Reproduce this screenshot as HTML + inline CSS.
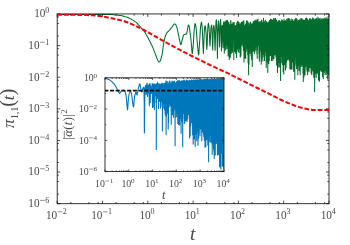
<!DOCTYPE html>
<html><head><meta charset="utf-8"><style>
html,body{margin:0;padding:0;background:#fff;}
svg{display:block;will-change:transform;font-family:"Liberation Serif",serif;}
text{fill:#4a4a4a;}
</style></head><body>
<svg width="350" height="245" viewBox="0 0 350 245">
<rect width="350" height="245" fill="#fff"/>
<defs><clipPath id="cm"><rect x="57.2" y="13.95" width="271.8" height="189.75"/></clipPath>
<clipPath id="ci"><rect x="105.0" y="77.8" width="119.0" height="93.8"/></clipPath></defs>
<g clip-path="url(#cm)" fill="none" stroke-linejoin="round">
<polyline points="57.3,14.4 60.4,14.4 64.9,14.4 70.0,14.4 75.3,14.4 80.0,14.4 84.3,14.4 88.7,14.4 92.8,14.4 96.7,14.4 100.0,14.4 102.7,14.4 104.8,14.4 106.6,14.4 108.3,14.4 110.0,14.5 111.8,14.6 113.4,14.7 115.0,14.9 116.5,15.0 118.0,15.2 119.4,15.4 120.7,15.6 121.9,15.8 123.1,16.1 124.3,16.4 125.5,16.8 126.6,17.1 127.7,17.6 128.9,18.1 130.0,18.6 131.2,19.2 132.3,19.9 133.5,20.6 134.6,21.3 135.7,22.1 136.7,22.9 137.6,23.8 138.4,24.8 139.3,25.7 140.0,26.5 140.7,27.3 141.3,28.0 141.9,28.7 142.4,29.4 142.9,30.0 143.3,30.5 143.7,30.8 144.1,31.1 144.5,31.6 145.0,32.4 145.7,33.5 146.4,34.9 147.3,36.4 148.1,38.0 148.9,39.6 149.7,41.1 150.5,42.7 151.3,44.3 152.1,45.9 152.8,47.5 153.5,49.1 154.1,50.8 154.7,52.4 155.3,53.9 155.8,55.3 156.3,56.5 156.7,57.5 157.0,58.5 157.4,59.3 157.7,60.0 158.0,60.6 158.3,61.2 158.6,61.6 158.8,61.9 159.1,62.0 159.4,61.9 159.7,61.7 160.0,61.3 160.3,60.8 160.6,60.0 160.9,59.0 161.3,57.8 161.6,56.4 162.0,54.9 162.3,53.3 162.6,51.5 162.8,49.5 163.1,47.4 163.3,45.3 163.6,43.5 163.9,41.9 164.2,40.4 164.5,39.1 164.9,37.8 165.2,36.7 165.5,35.7 165.9,34.8 166.2,34.1 166.6,33.4 167.0,32.7 167.5,32.1 167.9,31.6 168.5,31.2 169.0,30.7 169.5,30.2 170.0,29.6 170.5,28.9 171.1,28.2 171.6,27.6 172.1,26.9 172.6,26.2 173.1,25.4 173.5,24.7 174.0,24.2 174.4,23.9 174.8,23.9 175.2,24.2 175.7,24.6 176.0,25.2 176.4,25.9 176.7,26.8 177.0,27.9 177.3,29.1 177.6,30.4 177.9,31.8 178.2,33.3 178.5,34.9 178.9,36.6 179.2,38.2 179.5,39.6 179.8,40.9 180.1,42.3 180.3,43.5 180.6,44.3 180.9,44.6 181.2,44.2 181.5,43.3 181.7,42.1 182.0,40.7 182.3,39.6 182.6,38.6 182.9,37.5 183.1,36.5 183.4,35.7 183.7,35.0 184.0,34.6 184.3,34.4 184.6,34.4 184.9,34.4 185.2,34.3 185.5,34.2 185.8,34.3 186.1,34.2 186.3,34.1 186.6,33.6 186.8,32.8 187.1,31.6 187.3,30.3 187.5,29.0 187.7,28.0 187.9,27.1 188.1,26.3 188.2,25.6 188.4,25.1 188.6,25.0 188.8,25.3 189.0,25.8 189.2,26.6 189.4,27.7 189.6,29.0 189.8,30.7 190.1,32.7 190.4,35.0 190.7,37.2 190.9,39.3 191.1,41.2 191.3,43.0 191.4,44.8 191.6,46.5 191.7,48.0 191.8,49.5 191.9,51.1 192.0,52.5 192.2,53.4 192.3,53.6 192.5,52.9 192.6,51.5 192.8,49.6 193.0,47.4 193.2,45.0 193.4,42.3 193.6,39.0 193.8,35.7 194.0,32.6 194.2,30.0 194.4,28.0 194.6,26.3 194.7,24.9 194.9,24.0 195.1,23.6 195.3,23.8 195.5,24.4 195.7,25.5 196.0,27.1 196.2,29.0 196.5,31.6 196.7,34.9 197.0,38.5 197.2,42.0 197.5,45.0 197.7,47.7 198.0,50.4 198.2,52.8 198.4,54.4 198.6,55.0 198.8,54.2 199.0,52.4 199.1,49.8 199.3,46.9 199.5,44.0 199.7,41.0 199.9,37.5 200.1,33.9 200.3,30.6 200.5,28.0 200.7,26.1 200.9,24.6 201.1,23.6 201.3,22.7 201.4,22.1 201.8,23.7 202.2,27.9 202.6,35.2 203.0,45.9 203.4,53.6 203.7,46.2 204.1,36.4 204.4,30.0 204.8,26.6 205.1,25.8 205.5,26.7 205.8,29.9 206.2,35.8 206.5,44.1 206.8,49.5 207.2,43.9 207.5,35.1 207.8,28.6 208.1,24.7 208.4,23.3 208.7,24.6 209.1,28.1 209.4,34.0 209.7,41.6 210.0,45.9 210.3,41.7 210.6,34.5 210.9,29.1 211.2,26.0 211.5,25.1 211.8,26.3 212.0,29.8 212.2,36.0 212.5,44.6 212.7,50.1 212.9,44.6 213.1,36.1 213.3,29.9 213.6,26.4 213.8,25.3 214.0,25.9 214.3,29.0 214.6,34.9 214.8,44.0 215.1,50.6 215.3,43.5 215.6,33.1 215.8,25.8 216.0,21.5 216.3,19.7 216.5,21.1 216.7,25.3 217.0,33.1 217.2,46.1 217.4,58.6 217.6,46.3 217.8,33.6 218.1,26.0 218.3,22.1 218.5,20.9 218.7,22.0 218.9,25.4 219.1,31.7 219.3,40.8 219.5,47.0 219.8,40.7 220.0,31.3 220.2,24.6 220.4,20.8 220.6,19.4 220.7,21.2 220.9,25.6 221.1,33.1 221.3,43.6 221.4,51.0 221.6,44.2 221.8,34.9 221.9,28.9 222.1,25.8 222.3,25.2 222.4,25.9 222.5,29.0 222.7,34.7 222.8,42.6 223.0,47.7 223.1,42.3 223.3,33.6 223.4,27.1 223.5,23.2 223.7,21.7 223.8,22.9 223.9,26.8 224.1,33.8 224.2,44.7 224.3,53.1 224.5,44.7 224.6,33.8 224.7,26.8 224.9,22.9 225.0,21.6 225.1,22.7 225.2,26.3 225.4,32.9 225.5,42.7 225.6,49.9 225.7,42.6 225.9,32.4 226.0,25.5 226.1,21.5 226.2,20.2 226.4,21.4 226.5,25.1 226.6,31.8 226.7,41.6 226.9,48.5 227.0,41.6 227.1,31.9 227.2,25.3 227.4,21.6 227.5,20.4 227.6,21.9 227.8,26.0 227.9,33.6 228.0,45.6 228.2,55.9 228.3,45.8 228.4,34.2 228.6,26.9 228.7,23.1 228.8,22.0 228.9,23.6 229.0,27.9 229.1,35.7 229.2,48.3 229.3,59.5 229.4,48.7 229.5,36.7 229.6,29.5 229.7,25.8 229.8,24.8 229.9,25.6 230.0,29.1 230.1,36.0 230.2,47.5 230.3,57.6 230.4,47.0 230.5,34.5 230.6,26.6 230.7,22.1 230.8,20.4 230.9,22.0 231.0,26.3 231.1,33.8 231.2,45.0 231.3,53.5 231.4,45.4 231.5,35.1 231.6,28.5 231.7,25.1 231.8,24.3 232.0,25.3 232.1,28.8 232.2,35.4 232.3,45.1 232.4,52.2 232.5,45.0 232.6,34.8 232.7,27.8 232.8,23.9 232.9,22.5 233.1,23.6 233.2,22.6 233.3,24.3 233.3,27.8 233.4,31.1 233.5,32.1 233.5,32.1 233.6,33.8 233.6,39.1 233.7,49.1 233.8,59.6 233.8,56.1 233.9,45.7 234.0,37.2 234.0,30.4 234.1,25.3 234.1,22.4 234.2,22.4 234.3,25.3 234.3,31.0 234.4,36.6 234.5,38.1 234.5,37.0 234.6,38.2 234.6,43.8 234.7,51.5 234.8,50.2 234.8,41.8 234.9,35.8 234.9,32.8 235.0,30.7 235.1,28.3 235.1,26.0 235.2,25.5 235.2,27.5 235.3,31.3 235.3,34.4 235.4,34.3 235.5,33.6 235.5,36.1 235.6,43.6 235.6,53.3 235.7,48.2 235.7,37.0 235.8,30.5 235.9,28.1 235.9,27.9 236.0,27.7 236.0,26.6 236.1,25.8 236.1,26.4 236.2,28.5 236.3,30.5 236.3,31.1 236.4,31.8 236.4,35.4 236.5,44.7 236.5,57.4 236.6,48.9 236.6,34.8 236.7,26.9 236.7,23.5 236.8,22.7 236.9,22.8 236.9,22.7 237.0,22.9 237.0,24.3 237.1,27.7 237.1,32.2 237.2,36.4 237.2,39.4 237.3,43.1 237.3,48.6 237.4,48.9 237.4,39.5 237.5,30.0 237.5,24.2 237.6,21.6 237.7,21.2 237.7,21.8 237.8,22.5 237.8,23.3 237.9,25.4 237.9,29.5 238.0,36.1 238.0,44.5 238.1,51.1 238.1,51.3 238.2,45.4 238.2,37.4 238.3,30.3 238.3,25.1 238.4,22.4 238.4,21.9 238.5,23.1 238.5,25.1 238.6,27.1 238.6,29.1 238.7,31.6 238.7,35.4 238.8,40.8 238.8,47.3 238.9,52.5 238.9,51.1 239.0,43.2 239.0,34.6 239.1,24.2 239.1,22.7 239.2,23.2 239.2,24.9 239.3,27.3 239.3,30.4 239.4,34.3 239.4,39.6 239.5,45.1 239.5,48.5 239.6,48.8 239.6,47.9 239.7,45.5 239.7,40.0 239.8,33.3 239.8,27.9 239.9,24.6 239.9,25.6 240.0,27.2 240.0,28.8 240.1,31.3 240.1,36.2 240.2,45.2 240.2,56.9 240.3,57.1 240.3,47.8 240.4,41.2 240.4,37.1 240.5,28.5 240.5,25.0 240.6,23.8 240.6,25.3 240.7,28.7 240.7,32.3 240.8,34.1 240.8,35.5 240.9,47.6 240.9,55.9 241.0,50.3 241.0,40.7 241.1,35.1 241.1,32.2 241.2,26.2 241.2,23.2 241.3,22.3 241.3,24.4 241.4,29.4 241.4,35.8 241.5,39.7 241.5,40.6 241.6,43.8 241.6,45.1 241.7,40.5 241.7,34.6 241.8,30.9 241.8,30.4 241.9,27.8 241.9,24.3 242.0,22.2 242.0,23.0 242.1,32.5 242.1,37.3 242.2,39.2 242.2,40.6 242.3,44.0 242.3,39.1 242.4,32.8 242.4,29.0 242.5,27.5 242.5,26.2 242.6,23.8 242.6,22.1 242.7,25.8 242.7,31.3 242.8,36.9 242.8,40.7 242.9,46.6 242.9,46.8 243.0,40.2 243.0,32.1 243.1,23.3 243.1,21.8 243.2,21.1 243.2,21.0 243.3,24.8 243.3,30.6 243.4,39.2 243.4,50.4 243.5,46.8 243.5,43.1 243.6,34.7 243.6,29.7 243.7,25.5 243.7,22.7 243.8,20.8 243.8,21.7 243.9,24.6 243.9,30.3 244.0,54.0 244.0,62.1 244.1,42.2 244.1,35.8 244.2,31.5 244.2,28.5 244.3,25.8 244.3,25.4 244.4,26.0 244.4,28.1 244.5,41.0 244.5,52.4 244.6,57.7 244.6,50.8 244.7,39.5 244.7,35.6 244.8,28.1 244.8,25.8 244.9,26.6 244.9,27.9 245.0,29.8 245.0,33.4 245.1,51.8 245.1,57.9 245.2,39.5 245.2,36.2 245.3,36.7 245.3,33.7 245.4,25.8 245.4,24.8 245.5,27.4 245.5,29.9 245.6,42.6 245.6,56.6 245.7,58.5 245.7,43.4 245.8,30.8 245.8,32.2 245.9,30.4 245.9,26.4 246.0,23.6 246.0,25.9 246.1,33.5 246.1,37.5 246.2,51.5 246.2,50.1 246.3,31.9 246.3,28.4 246.4,28.7 246.4,26.7 246.5,21.2 246.5,22.1 246.6,33.2 246.6,40.4 246.7,43.6 246.7,42.5 246.8,34.8 246.8,30.8 246.9,29.1 246.9,29.2 247.0,20.4 247.0,21.0 247.1,33.0 247.1,43.2 247.2,49.1 247.2,41.6 247.3,33.4 247.3,30.3 247.4,27.9 247.4,27.2 247.5,22.9 247.5,21.8 247.6,27.8 247.6,36.1 247.7,54.7 247.7,43.9 247.8,33.4 247.8,29.5 247.9,24.3 247.9,22.8 248.0,22.0 248.0,24.9 248.1,53.4 248.1,62.7 248.2,43.3 248.2,37.1 248.3,30.3 248.3,28.2 248.4,23.5 248.4,23.1 248.5,29.9 248.5,40.2 248.6,74.7 248.6,52.6 248.7,30.2 248.7,27.9 248.8,26.9 248.8,28.1 248.9,29.4 248.9,29.6 249.0,51.0 249.0,64.3 249.1,39.9 249.1,34.2 249.2,29.1 249.2,26.0 249.3,27.0 249.3,29.2 249.4,36.0 249.4,42.4 249.5,51.8 249.5,40.5 249.6,30.7 249.6,33.5 249.7,27.2 249.7,23.4 249.8,28.2 249.8,31.7 249.9,43.6 249.9,53.3 250.0,30.0 250.0,27.0 250.1,29.3 250.1,25.3 250.2,22.4 250.2,24.9 250.3,39.4 250.3,50.6 250.4,37.0 250.4,29.3 250.5,24.7 250.5,25.1 250.6,22.3 250.6,23.6 250.7,43.5 250.7,47.2 250.8,39.1 250.8,34.1 250.9,27.1 250.9,26.1 251.0,23.7 251.0,23.4 251.1,39.8 251.1,56.0 251.2,40.9 251.2,35.1 251.3,26.9 251.3,26.6 251.4,26.3 251.4,27.5 251.5,37.0 251.5,46.3 251.6,59.2 251.6,40.3 251.7,25.3 251.7,24.4 251.8,26.5 251.8,29.0 251.9,54.2 251.9,60.1 252.0,39.8 252.0,34.0 252.1,24.1 252.1,24.6 252.2,29.4 252.2,32.9 252.3,66.5 252.3,51.9 252.4,30.5 252.4,28.1 252.5,23.9 252.5,27.0 252.6,36.2 252.6,40.2 252.7,51.2 252.7,35.1 252.8,28.0 252.8,23.4 252.9,26.1 252.9,31.2 253.0,36.7 253.0,37.3 253.1,44.1 253.1,34.1 253.2,26.3 253.2,21.9 253.3,27.0 253.3,32.1 253.4,41.1 253.4,47.7 253.5,26.8 253.5,25.0 253.6,23.5 253.6,23.3 253.7,34.3 253.7,39.2 253.8,51.2 253.8,37.5 253.9,21.1 253.9,21.0 254.0,27.1 254.0,31.5 254.1,48.4 254.1,47.1 254.2,33.6 254.2,28.0 254.3,22.8 254.3,27.3 254.4,45.5 254.4,53.4 254.5,39.7 254.5,33.2 254.6,24.5 254.6,25.3 254.7,37.9 254.7,43.8 254.8,50.2 254.8,45.2 254.9,23.3 254.9,21.1 255.0,33.5 255.0,38.5 255.1,51.1 255.1,40.9 255.2,32.2 255.2,20.0 255.3,26.3 255.3,32.1 255.4,50.1 255.4,47.6 255.5,30.9 255.5,29.4 255.6,21.4 255.6,25.0 255.7,39.5 255.7,42.9 255.8,34.7 255.8,30.5 255.9,21.2 255.9,21.9 256.0,40.4 256.0,34.4 256.1,42.5 256.1,37.2 256.2,24.8 256.2,21.2 256.3,31.2 256.3,38.7 256.4,45.7 256.4,46.7 256.5,23.1 256.5,21.9 256.6,37.2 256.6,44.0 256.7,51.1 256.7,43.0 256.8,19.9 256.8,20.2 256.9,44.6 256.9,54.0 257.0,44.3 257.0,41.3 257.1,22.8 257.1,22.4 257.2,42.2 257.2,58.2 257.3,38.6 257.3,34.8 257.4,23.3 257.4,26.5 257.5,44.1 257.5,49.4 257.6,38.8 257.6,37.5 257.7,19.7 257.7,26.4 257.8,44.4 257.8,45.9 257.9,33.6 257.9,33.3 258.0,19.1 258.0,26.7 258.1,43.7 258.1,44.7 258.2,27.6 258.2,26.6 258.3,22.0 258.3,31.3 258.4,41.3 258.4,42.8 258.5,26.1 258.5,22.9 258.6,35.0 258.6,44.7 258.7,39.8 258.7,40.9 258.8,24.0 258.8,22.9 258.9,46.8 258.9,54.1 259.0,33.6 259.0,28.8 259.1,23.5 259.1,26.7 259.2,58.7 259.2,53.9 259.3,23.1 259.3,22.0 259.4,42.1 259.4,61.2 259.5,38.6 259.5,35.7 259.6,23.2 259.6,26.1 259.7,57.7 259.7,53.6 259.8,28.4 259.8,24.0 259.9,33.0 259.9,33.8 260.0,47.5 260.0,33.5 260.1,22.1 260.1,21.8 260.2,37.6 260.2,45.2 260.3,28.6 260.3,28.1 260.4,21.6 260.4,28.0 260.5,49.1 260.5,43.1 260.6,25.0 260.6,26.3 260.7,43.7 260.7,50.2 260.8,27.9 260.8,24.5 260.9,30.0 260.9,33.1 261.0,52.6 261.0,37.3 261.1,26.3 261.1,26.8 261.2,56.1 261.2,64.2 261.3,24.2 261.3,25.3 261.4,35.2 261.4,61.3 261.5,27.1 261.5,20.0 261.6,31.6 261.6,33.8 261.7,54.7 261.7,31.3 261.8,21.6 261.8,26.7 261.9,50.8 261.9,49.9 262.0,24.6 262.0,25.0 262.1,33.7 262.1,51.5 262.2,26.2 262.2,24.7 262.3,32.0 262.3,34.8 262.4,50.7 262.4,38.7 262.5,24.8 262.5,26.1 262.6,58.1 262.6,52.7 262.7,22.8 262.7,29.5 262.8,51.4 262.8,60.9 262.9,22.5 262.9,24.2 263.0,44.9 263.0,54.2 263.1,24.6 263.1,23.6 263.2,36.8 263.2,56.5 263.3,26.8 263.3,20.3 263.4,32.7 263.4,33.4 263.5,54.3 263.5,18.3 263.6,32.0 263.6,47.4 263.7,31.7 263.7,21.9 263.8,27.9 263.8,33.9 263.9,47.1 263.9,36.4 264.0,24.5 264.0,31.4 264.1,49.6 264.1,51.9 264.2,24.4 264.2,27.1 264.3,49.7 264.3,53.0 264.4,24.0 264.4,25.6 264.5,60.6 264.5,52.0 264.6,23.0 264.6,26.4 264.7,55.8 264.7,51.6 264.8,21.3 264.8,28.4 264.9,50.7 264.9,41.3 265.0,22.1 265.0,27.0 265.1,51.9 265.1,35.2 265.2,21.0 265.2,29.9 265.3,49.1 265.3,39.5 265.4,20.2 265.4,25.2 265.5,45.1 265.5,34.7 265.6,23.8 265.6,27.2 265.7,46.1 265.7,34.0 265.8,27.9 265.8,31.0 265.9,48.4 265.9,36.5 266.0,25.7 266.0,56.0 266.1,32.2 266.1,23.2 266.2,42.6 266.2,67.5 266.3,24.4 266.3,24.0 266.4,55.1 266.4,60.5 266.5,21.7 266.5,23.8 266.6,56.5 266.6,34.8 266.7,23.2 266.7,27.0 266.8,55.1 266.8,29.1 266.9,23.8 266.9,52.1 267.0,28.7 267.0,23.4 267.1,41.9 267.1,51.6 267.2,29.4 267.2,25.3 267.3,62.1 267.3,56.8 267.4,29.5 267.4,28.3 267.5,60.8 267.5,43.7 267.6,25.6 267.6,27.9 267.7,61.2 267.7,23.3 267.8,37.3 267.8,72.5 267.9,22.2 267.9,23.6 268.0,61.8 268.0,38.1 268.1,22.1 268.1,52.0 268.2,26.2 268.2,25.1 268.3,33.8 268.3,52.2 268.4,26.2 268.4,26.6 268.5,54.1 268.5,52.9 268.6,26.9 268.6,27.8 268.7,57.9 268.7,27.8 268.8,45.8 268.8,63.6 268.9,26.2 268.9,28.5 269.0,55.1 269.0,44.5 269.1,23.1 269.1,53.9 269.2,23.2 269.2,21.4 269.3,60.6 269.3,53.9 269.4,20.6 269.4,53.4 269.5,26.2 269.5,22.6 269.6,43.7 269.6,44.8 269.7,28.3 269.7,26.9 269.8,48.3 269.8,28.2 269.9,39.4 269.9,53.2 270.0,23.2 270.0,24.2 270.1,54.0 270.1,22.7 270.2,40.2 270.2,55.4 270.3,21.7 270.3,23.1 270.4,48.4 270.4,37.7 270.5,19.1 270.5,48.1 270.6,19.2 270.6,19.5 270.7,50.9 270.7,21.2 270.8,46.2 270.8,46.3 270.9,24.0 270.9,24.2 271.0,55.9 271.0,26.5 271.1,53.0 271.1,49.1 271.2,25.1 271.2,26.6 271.3,49.7 271.3,19.9 271.4,55.2 271.4,41.0 271.5,19.9 271.5,60.6 271.6,22.4 271.6,20.1 271.7,49.5 271.7,19.5 271.8,44.3 271.8,47.5 271.9,21.2 271.9,21.7 272.0,50.5 272.0,25.2 272.1,53.1 272.1,45.4 272.2,26.2 272.2,56.9 272.3,28.3 272.3,25.5 272.4,54.1 272.4,24.1 272.5,50.8 272.5,49.5 272.6,20.2 272.6,58.7 272.7,20.1 272.7,20.3 272.8,60.6 272.8,22.2 272.9,49.3 272.9,50.6 273.0,24.6 273.0,47.4 273.1,30.3 273.1,26.9 273.2,53.7 273.2,26.5 273.3,53.8 273.3,52.4 273.4,23.8 273.4,50.8 273.5,24.7 273.5,51.1 273.6,22.2 273.6,21.2 273.7,51.7 273.7,18.2 273.8,48.5 273.8,56.9 273.9,20.7 273.9,58.8 274.0,24.0 274.0,53.8 274.1,25.6 274.1,26.1 274.2,49.2 274.2,26.5 274.3,52.4 274.3,55.0 274.4,22.5 274.4,53.6 274.5,19.4 274.5,45.4 274.6,19.8 274.6,20.9 274.7,49.2 274.7,19.2 274.8,51.9 274.8,44.7 274.9,19.0 274.9,54.2 275.0,23.4 275.0,52.7 275.1,24.3 275.1,48.2 275.2,24.6 275.2,27.9 275.3,44.9 275.3,24.1 275.4,50.6 275.4,20.9 275.5,47.9 275.5,18.2 275.6,50.1 275.6,52.0 275.7,20.1 275.7,55.3 275.8,22.9 275.8,54.0 275.9,23.9 275.9,27.4 276.0,52.5 276.0,57.1 276.1,26.0 276.1,26.4 276.2,49.0 276.2,25.2 276.3,47.9 276.3,23.0 276.4,55.8 276.4,21.8 276.5,60.5 276.5,54.0 276.6,20.1 276.6,65.0 276.7,25.1 276.7,64.7 276.8,25.7 276.8,54.5 276.9,27.6 276.9,55.8 277.0,27.5 277.0,61.4 277.1,24.5 277.1,52.2 277.2,24.3 277.2,52.5 277.3,24.8 277.3,65.7 277.4,23.3 277.4,22.3 277.5,72.5 277.5,23.3 277.6,65.2 277.6,57.3 277.7,25.6 277.7,24.3 277.8,49.9 277.8,25.4 277.9,52.0 277.9,25.0 278.0,56.3 278.0,21.8 278.1,50.3 278.1,21.2 278.2,55.6 278.2,23.2 278.3,66.9 278.3,23.4 278.4,62.7 278.4,24.9 278.5,57.0 278.5,26.1 278.6,50.9 278.6,25.3 278.7,43.1 278.7,22.5 278.8,46.1 278.8,21.7 278.9,53.7 278.9,20.4 279.0,53.9 279.0,20.2 279.1,57.5 279.1,22.9 279.2,56.9 279.2,24.7 279.3,56.3 279.3,24.4 279.4,62.8 279.4,52.0 279.5,24.6 279.5,44.5 279.6,20.8 279.6,21.1 279.7,54.2 279.7,67.0 279.8,21.3 279.8,63.3 279.9,22.4 279.9,60.4 280.0,25.2 280.0,54.1 280.1,26.7 280.1,23.7 280.2,55.0 280.2,24.1 280.3,50.7 280.3,25.8 280.4,50.1 280.4,22.9 280.5,62.3 280.5,22.6 280.6,80.5 280.6,25.4 280.7,57.6 280.7,55.5 280.8,26.5 280.8,49.1 280.9,23.9 280.9,21.8 281.0,47.8 281.0,23.4 281.1,52.4 281.1,22.0 281.2,55.4 281.2,21.1 281.3,62.8 281.3,61.1 281.4,22.3 281.4,51.7 281.5,21.5 281.5,46.3 281.6,23.4 281.6,21.7 281.7,49.3 281.7,19.7 281.8,49.3 281.8,56.8 281.9,20.7 281.9,54.0 282.0,21.1 282.0,23.6 282.1,52.8 282.1,20.7 282.2,48.5 282.2,20.8 282.3,45.3 282.3,44.1 282.4,23.0 282.4,20.2 282.5,56.6 282.5,64.5 282.6,21.7 282.6,24.2 282.7,51.6 282.7,24.6 282.8,54.2 282.8,51.5 282.9,22.3 282.9,24.1 283.0,49.8 283.0,58.6 283.1,25.2 283.1,65.7 283.2,22.4 283.2,71.6 283.3,25.5 283.3,47.5 283.4,21.2 283.4,22.8 283.5,48.6 283.5,55.0 283.6,22.8 283.6,24.0 283.7,59.9 283.7,70.5 283.8,25.0 283.8,73.9 283.9,23.6 283.9,60.0 284.0,20.8 284.0,18.9 284.1,44.0 284.1,46.7 284.2,25.9 284.2,22.9 284.3,58.1 284.3,22.5 284.4,64.8 284.4,62.4 284.5,24.2 284.5,22.3 284.6,53.9 284.6,21.6 284.7,51.3 284.7,25.7 284.8,49.3 284.8,60.7 284.9,23.1 284.9,62.6 285.0,20.8 285.0,60.1 285.1,23.1 285.1,52.5 285.2,22.9 285.2,25.2 285.3,57.7 285.3,27.7 285.4,54.4 285.4,26.1 285.5,70.0 285.5,68.5 285.6,22.2 285.6,20.8 285.7,61.0 285.7,56.6 285.8,23.8 285.8,25.3 285.9,59.5 285.9,61.9 286.0,27.5 286.0,65.0 286.1,24.1 286.1,67.6 286.2,22.6 286.2,21.3 286.3,57.3 286.3,50.8 286.4,24.4 286.4,54.6 286.5,26.0 286.5,62.1 286.6,22.5 286.6,21.1 286.7,51.0 286.7,19.6 286.8,50.4 286.8,19.2 286.9,54.4 286.9,25.4 287.0,48.4 287.0,21.3 287.1,57.1 287.1,53.6 287.2,19.0 287.2,21.2 287.3,52.1 287.3,20.3 287.4,52.9 287.4,59.6 287.5,27.5 287.5,21.3 287.6,53.6 287.6,57.9 287.7,20.3 287.7,20.9 287.8,55.7 287.8,54.3 287.9,24.9 287.9,26.5 288.0,60.1 288.0,57.3 288.1,24.7 288.1,21.6 288.2,58.0 288.2,56.9 288.3,18.4 288.3,21.5 288.4,54.7 288.4,57.7 288.5,23.5 288.5,58.4 288.6,23.6 288.6,54.9 288.7,22.2 288.7,56.0 288.8,18.7 288.8,51.1 288.9,23.5 288.9,52.4 289.0,23.0 289.0,20.2 289.1,56.1 289.1,53.4 289.2,21.6 289.2,23.3 289.3,60.6 289.3,23.6 289.4,56.8 289.4,54.4 289.5,22.3 289.5,19.1 289.6,54.7 289.6,23.0 289.7,59.7 289.7,26.9 289.8,68.7 289.8,26.9 289.9,61.4 289.9,58.6 290.0,22.5 290.0,21.2 290.1,65.5 290.1,67.6 290.2,24.2 290.2,64.4 290.3,28.0 290.3,55.9 290.4,23.7 290.4,55.4 290.5,23.4 290.5,22.9 290.6,69.1 290.6,61.9 290.7,24.6 290.7,53.3 290.8,20.1 290.8,48.2 290.9,20.2 290.9,22.7 291.0,58.0 291.0,22.3 291.1,67.9 291.1,50.5 291.2,22.5 291.2,18.8 291.3,51.9 291.3,20.9 291.4,67.9 291.4,23.6 291.5,65.8 291.5,55.9 291.6,22.7 291.6,21.2 291.7,49.6 291.7,23.0 291.8,69.1 291.8,69.5 291.9,25.5 291.9,54.6 292.0,23.3 292.0,51.9 292.1,22.6 292.1,61.2 292.2,21.0 292.2,61.7 292.3,21.8 292.3,21.1 292.4,48.0 292.4,21.8 292.5,57.3 292.5,22.9 292.6,58.3 292.6,19.4 292.7,53.3 292.7,20.7 292.8,44.0 292.8,21.0 292.9,56.7 292.9,22.8 293.0,62.6 293.0,55.7 293.1,21.5 293.1,54.9 293.2,24.5 293.2,23.2 293.3,59.6 293.3,68.0 293.4,23.2 293.4,56.3 293.5,22.5 293.5,61.1 293.6,24.6 293.6,71.1 293.7,23.8 293.7,71.4 293.8,21.2 293.8,55.0 293.9,22.9 293.9,59.8 294.0,25.1 294.0,24.4 294.1,65.1 294.1,56.0 294.2,19.6 294.2,50.8 294.3,23.2 294.3,24.1 294.4,60.5 294.4,22.0 294.5,59.5 294.5,56.7 294.6,20.7 294.6,23.6 294.7,59.6 294.7,24.0 294.8,79.3 294.8,22.8 294.9,62.4 294.9,57.7 295.0,23.1 295.0,26.7 295.1,64.1 295.1,65.9 295.2,21.4 295.2,24.0 295.3,57.0 295.3,58.6 295.4,25.7 295.4,51.8 295.5,19.4 295.5,54.2 295.6,18.8 295.6,23.8 295.7,58.7 295.7,55.8 295.8,20.9 295.8,18.3 295.9,55.0 295.9,20.1 296.0,54.1 296.0,21.5 296.1,57.2 296.1,55.7 296.2,20.9 296.2,22.6 296.3,64.0 296.3,53.8 296.4,24.8 296.4,20.5 296.5,58.5 296.5,21.6 296.6,59.2 296.6,68.6 296.7,23.5 296.7,59.9 296.8,18.8 296.8,20.5 296.9,62.6 296.9,55.8 297.0,22.6 297.0,20.8 297.1,53.0 297.1,19.6 297.2,61.5 297.2,51.4 297.3,25.5 297.3,55.8 297.4,21.0 297.4,23.1 297.5,68.6 297.5,60.8 297.6,25.9 297.6,23.1 297.7,61.4 297.7,23.3 297.8,74.8 297.8,58.7 297.9,24.1 297.9,64.5 298.0,22.8 298.0,22.1 298.1,65.7 298.1,52.3 298.2,23.9 298.2,48.8 298.3,21.0 298.3,60.3 298.4,20.6 298.4,54.6 298.5,22.0 298.5,20.8 298.6,57.9 298.6,21.6 298.7,64.5 298.7,54.9 298.8,21.2 298.8,22.1 298.9,61.6 298.9,63.6 299.0,23.3 299.0,53.2 299.1,24.1 299.1,70.3 299.2,22.1 299.2,53.8 299.3,20.5 299.3,19.6 299.4,53.1 299.4,68.7 299.5,21.4 299.5,51.4 299.6,20.5 299.6,20.4 299.7,55.2 299.7,21.7 299.8,62.6 299.8,23.5 299.9,52.0 299.9,24.0 300.0,71.4 300.0,62.9 300.1,20.5 300.1,24.7 300.2,64.8 300.2,74.8 300.3,23.8 300.3,54.5 300.4,21.5 300.4,66.5 300.5,25.5 300.5,66.6 300.6,21.5 300.6,23.4 300.7,55.0 300.7,58.6 300.8,21.4 300.8,18.4 300.9,57.1 300.9,60.4 301.0,23.2 301.0,62.9 301.1,20.0 301.1,62.3 301.2,24.7 301.2,66.4 301.3,21.6 301.3,22.5 301.4,59.6 301.4,57.7 301.5,24.4 301.5,61.3 301.6,19.7 301.6,20.5 301.7,54.3 301.7,19.8 301.8,56.4 301.8,18.4 301.9,57.6 301.9,54.1 302.0,21.6 302.0,19.8 302.1,58.1 302.1,22.8 302.2,64.4 302.2,63.1 302.3,22.5 302.3,21.7 302.4,63.8 302.4,65.8 302.5,23.2 302.5,20.0 302.6,62.2 302.6,58.5 302.7,22.9 302.7,20.4 302.8,57.9 302.8,60.2 302.9,23.4 302.9,19.7 303.0,60.6 303.0,73.2 303.1,24.3 303.1,21.0 303.2,60.2 303.2,23.2 303.3,81.6 303.3,58.6 303.4,22.6 303.4,20.7 303.5,66.5 303.5,61.1 303.6,23.2 303.6,20.4 303.7,60.8 303.7,53.5 303.8,20.0 303.8,20.4 303.9,57.8 303.9,77.1 304.0,22.4 304.0,20.3 304.1,52.3 304.1,23.0 304.2,67.8 304.2,62.4 304.3,24.0 304.3,61.8 304.4,21.7 304.4,21.8 304.5,61.2 304.5,75.1 304.6,20.7 304.6,22.1 304.7,50.9 304.7,20.3 304.8,63.9 304.8,23.4 304.9,56.3 304.9,72.0 305.0,21.6 305.0,24.2 305.1,57.1 305.1,74.6 305.2,24.5 305.2,62.6 305.3,22.6 305.3,64.3 305.4,21.2 305.4,55.5 305.5,21.5 305.5,64.2 305.6,18.4 305.6,21.6 305.7,53.0 305.7,66.4 305.8,19.6 305.8,20.2 305.9,56.0 305.9,62.0 306.0,21.2 306.0,61.6 306.1,22.4 306.1,59.5 306.2,19.1 306.2,55.5 306.3,21.7 306.3,58.7 306.4,18.1 306.4,20.1 306.5,54.3 306.5,18.7 306.6,58.0 306.6,25.3 306.7,59.6 306.7,21.5 306.8,69.7 306.8,24.4 306.9,61.9 306.9,21.2 307.0,64.3 307.0,71.3 307.1,21.4 307.1,18.7 307.2,59.3 307.2,55.9 307.3,20.5 307.3,19.0 307.4,64.5 307.4,22.8 307.5,63.0 307.5,22.6 307.6,74.8 307.6,22.0 307.7,67.0 307.7,63.2 307.8,23.9 307.8,20.0 307.9,56.9 307.9,52.5 308.0,20.2 308.0,20.0 308.1,60.7 308.1,51.0 308.2,21.6 308.2,23.4 308.3,66.3 308.3,23.6 308.4,64.8 308.4,70.5 308.5,21.8 308.5,22.2 308.6,69.7 308.6,60.9 308.7,21.0 308.7,22.3 308.8,66.4 308.8,23.0 308.9,61.0 308.9,22.6 309.0,69.7 309.0,71.8 309.1,23.5 309.1,67.4 309.2,21.7 309.2,66.7 309.3,21.4 309.3,21.3 309.4,59.3 309.4,56.6 309.5,20.6 309.5,18.5 309.6,58.8 309.6,20.9 309.7,63.0 309.7,56.3 309.8,20.0 309.8,23.8 309.9,67.5 309.9,59.4 310.0,20.6 310.0,60.2 310.1,19.8 310.1,21.4 310.2,58.4 310.2,55.1 310.3,19.1 310.3,67.8 310.4,22.9 310.4,22.9 310.5,66.4 310.5,66.0 310.6,21.9 310.6,64.7 310.7,24.0 310.7,22.2 310.8,63.3 310.8,20.0 310.9,58.2 310.9,67.0 311.0,21.4 311.0,19.0 311.1,73.1 311.1,22.5 311.2,65.8 311.2,64.1 311.3,22.3 311.3,61.9 311.4,19.9 311.4,20.0 311.5,55.6 311.5,56.9 311.6,20.7 311.6,21.8 311.7,65.5 311.7,23.8 311.8,74.7 311.8,60.6 311.9,21.8 311.9,68.6 312.0,20.4 312.0,65.3 312.1,19.9 312.1,20.9 312.2,60.3 312.2,68.5 312.3,21.0 312.3,22.8 312.4,70.8 312.4,24.8 312.5,63.5 312.5,60.1 312.6,18.4 312.6,59.8 312.7,17.7 312.7,55.4 312.8,18.9 312.8,19.8 312.9,56.4 312.9,60.6 313.0,19.4 313.0,63.1 313.1,19.1 313.1,61.0 313.2,19.7 313.2,18.4 313.3,65.7 313.3,19.8 313.4,62.3 313.4,22.3 313.5,72.1 313.5,65.5 313.6,24.2 313.6,21.7 313.7,77.2 313.7,20.6 313.8,66.6 313.8,20.4 313.9,57.0 313.9,21.1 314.0,61.6 314.0,19.1 314.1,67.0 314.1,21.6 314.2,65.7 314.2,72.7 314.3,21.9 314.3,19.6 314.4,56.8 314.4,65.8 314.5,21.1 314.5,21.2 314.6,61.6 314.6,91.7 314.7,25.1 314.7,83.3 314.8,22.0 314.8,22.3 314.9,63.0 314.9,62.9 315.0,20.9 315.0,67.2 315.1,21.5 315.1,21.9 315.2,73.7 315.2,66.9 315.3,21.3 315.3,21.4 315.4,60.0 315.4,19.5 315.5,53.0 315.5,19.0 315.6,55.4 315.6,59.5 315.7,20.2 315.7,67.1 315.8,21.8 315.8,64.5 315.9,19.7 315.9,20.7 316.0,58.3 316.0,21.3 316.1,64.1 316.1,21.4 316.2,77.4 316.2,21.3 316.3,66.7 316.3,66.0 316.4,22.0 316.4,58.9 316.5,20.9 316.5,64.2 316.6,18.3 316.6,64.6 316.7,20.9 316.7,61.5 316.8,21.2 316.8,69.8 316.9,19.9 316.9,62.3 317.0,19.9 317.0,21.7 317.1,65.9 317.1,21.8 317.2,72.9 317.2,71.7 317.3,22.7 317.3,21.9 317.4,64.1 317.4,59.0 317.5,21.0 317.5,20.5 317.6,64.2 317.6,61.9 317.7,20.4 317.7,64.4 317.8,20.7 317.8,59.2 317.9,17.6 317.9,17.0 318.0,53.5 318.0,20.7 318.1,61.3 318.1,21.6 318.2,74.3 318.2,61.2 318.3,18.8 318.3,66.4 318.4,20.5 318.4,21.9 318.5,80.1 318.5,21.5 318.6,64.3 318.6,74.8 318.7,22.5 318.7,18.9 318.8,63.7 318.8,20.9 318.9,61.4 318.9,19.0 319.0,68.8 319.0,22.3 319.1,71.8 319.1,73.3 319.2,20.9 319.2,21.2 319.3,74.8 319.3,21.7 319.4,70.5 319.4,23.6 319.5,81.3 319.5,21.7 319.6,71.0 319.6,20.7 319.7,63.0 319.7,63.0 319.8,18.5 319.8,20.2 319.9,69.6 319.9,20.6 320.0,63.5 320.0,56.3 320.1,18.2 320.1,56.9 320.2,19.8 320.2,23.0 320.3,62.2 320.3,69.9 320.4,22.6 320.4,66.7 320.5,20.5 320.5,19.9 320.6,68.7 320.6,19.8 320.7,69.5 320.7,22.4 320.8,62.7 320.8,20.4 320.9,58.8 320.9,20.1 321.0,61.0 321.0,20.8 321.1,68.4 321.1,71.5 321.2,20.4 321.2,66.6 321.3,19.8 321.3,66.9 321.4,22.0 321.4,23.9 321.5,70.5 321.5,66.1 321.6,21.3 321.6,58.7 321.7,19.9 321.7,18.7 321.8,58.1 321.8,59.4 321.9,20.1 321.9,62.9 322.0,19.0 322.0,56.8 322.1,18.5 322.1,20.3 322.2,60.5 322.2,22.9 322.3,71.1 322.3,71.8 322.4,21.9 322.4,19.9 322.5,63.7 322.5,19.9 322.6,76.8 322.6,71.8 322.7,20.2 322.7,61.1 322.8,19.9 322.8,21.5 322.9,68.9 322.9,76.2 323.0,21.5 323.0,74.5 323.1,21.4 323.1,64.5 323.2,21.8 323.2,70.8 323.3,21.5 323.3,78.6 323.4,21.1 323.4,56.5 323.5,19.1 323.5,18.7 323.6,59.1 323.6,62.6 323.7,20.9 323.7,19.4 323.8,63.0 323.8,19.8 323.9,65.3 323.9,19.7 324.0,71.2 324.0,21.7 324.1,66.2 324.1,66.4 324.2,18.8 324.2,68.0 324.3,19.2 324.3,21.9 324.4,66.3 324.4,67.9 324.5,19.7 324.5,19.4 324.6,66.5 324.6,22.8 324.7,70.0 324.7,72.5 324.8,20.9 324.8,63.5 324.9,21.0 324.9,21.5 325.0,74.6 325.0,61.7 325.1,21.1 325.1,17.8 325.2,57.5 325.2,21.5 325.3,66.9 325.3,19.2 325.4,70.1 325.4,59.8 325.5,19.4 325.5,21.6 325.6,69.1 325.6,22.1 325.7,69.1 325.7,68.6 325.8,19.5 325.8,21.2 325.9,65.8 325.9,68.8 326.0,21.7 326.0,66.6 326.1,21.2 326.1,22.3 326.2,67.4 326.2,22.6 326.3,74.7 326.3,68.3 326.4,20.6 326.4,18.7 326.5,64.9 326.5,20.9 326.6,66.8 326.6,57.5 326.7,17.8 326.7,19.2 326.8,62.9 326.8,63.8 326.9,22.4 326.9,63.5 327.0,19.9 327.0,20.9 327.1,67.5 327.1,72.4 327.2,21.3 327.2,19.3 327.3,62.5 327.3,21.4 327.4,70.0 327.4,72.9 327.5,20.2 327.5,72.1 327.6,20.7 327.6,22.2 327.7,79.0 327.7,65.2 327.8,20.7 327.8,61.6 327.9,19.5 327.9,67.8 328.0,20.6 328.0,66.4 328.1,18.3 328.1,18.5 328.2,64.6 328.2,68.8 328.3,20.9 328.3,66.3 328.4,19.1 328.4,20.5 328.5,68.9 328.5,21.6 328.6,68.8 328.6,18.9 328.7,67.8 328.7,22.0 328.8,74.9 328.8,21.0 328.9,75.0 328.9,71.9 329.0,21.3" stroke="#006d2c" stroke-width="1.05"/>
</g>
<g stroke="#222" stroke-width="0.8" fill="none">
<path d="M57.20 203.7 v-3 M57.20 13.95 v3"/>
<path d="M70.84 203.7 v-1.7 M70.84 13.95 v1.7"/>
<path d="M88.86 203.7 v-1.7 M88.86 13.95 v1.7"/>
<path d="M98.11 203.7 v-1.7 M98.11 13.95 v1.7"/>
<path d="M102.50 203.7 v-3 M102.50 13.95 v3"/>
<path d="M116.14 203.7 v-1.7 M116.14 13.95 v1.7"/>
<path d="M134.16 203.7 v-1.7 M134.16 13.95 v1.7"/>
<path d="M143.41 203.7 v-1.7 M143.41 13.95 v1.7"/>
<path d="M147.80 203.7 v-3 M147.80 13.95 v3"/>
<path d="M161.44 203.7 v-1.7 M161.44 13.95 v1.7"/>
<path d="M179.46 203.7 v-1.7 M179.46 13.95 v1.7"/>
<path d="M188.71 203.7 v-1.7 M188.71 13.95 v1.7"/>
<path d="M193.10 203.7 v-3 M193.10 13.95 v3"/>
<path d="M206.74 203.7 v-1.7 M206.74 13.95 v1.7"/>
<path d="M224.76 203.7 v-1.7 M224.76 13.95 v1.7"/>
<path d="M234.01 203.7 v-1.7 M234.01 13.95 v1.7"/>
<path d="M238.40 203.7 v-3 M238.40 13.95 v3"/>
<path d="M252.04 203.7 v-1.7 M252.04 13.95 v1.7"/>
<path d="M270.06 203.7 v-1.7 M270.06 13.95 v1.7"/>
<path d="M279.31 203.7 v-1.7 M279.31 13.95 v1.7"/>
<path d="M283.70 203.7 v-3 M283.70 13.95 v3"/>
<path d="M297.34 203.7 v-1.7 M297.34 13.95 v1.7"/>
<path d="M315.36 203.7 v-1.7 M315.36 13.95 v1.7"/>
<path d="M324.61 203.7 v-1.7 M324.61 13.95 v1.7"/>
<path d="M329.00 203.7 v-3 M329.00 13.95 v3"/>
<path d="M57.2 13.95 h3 M329.0 13.95 h-3"/>
<path d="M57.2 36.05 h1.7 M329.0 36.05 h-1.7"/>
<path d="M57.2 23.47 h1.7 M329.0 23.47 h-1.7"/>
<path d="M57.2 17.01 h1.7 M329.0 17.01 h-1.7"/>
<path d="M57.2 45.58 h3 M329.0 45.58 h-3"/>
<path d="M57.2 67.68 h1.7 M329.0 67.68 h-1.7"/>
<path d="M57.2 55.10 h1.7 M329.0 55.10 h-1.7"/>
<path d="M57.2 48.64 h1.7 M329.0 48.64 h-1.7"/>
<path d="M57.2 77.20 h3 M329.0 77.20 h-3"/>
<path d="M57.2 99.30 h1.7 M329.0 99.30 h-1.7"/>
<path d="M57.2 86.72 h1.7 M329.0 86.72 h-1.7"/>
<path d="M57.2 80.26 h1.7 M329.0 80.26 h-1.7"/>
<path d="M57.2 108.83 h3 M329.0 108.83 h-3"/>
<path d="M57.2 130.93 h1.7 M329.0 130.93 h-1.7"/>
<path d="M57.2 118.35 h1.7 M329.0 118.35 h-1.7"/>
<path d="M57.2 111.89 h1.7 M329.0 111.89 h-1.7"/>
<path d="M57.2 140.45 h3 M329.0 140.45 h-3"/>
<path d="M57.2 162.55 h1.7 M329.0 162.55 h-1.7"/>
<path d="M57.2 149.97 h1.7 M329.0 149.97 h-1.7"/>
<path d="M57.2 143.51 h1.7 M329.0 143.51 h-1.7"/>
<path d="M57.2 172.07 h3 M329.0 172.07 h-3"/>
<path d="M57.2 194.18 h1.7 M329.0 194.18 h-1.7"/>
<path d="M57.2 181.60 h1.7 M329.0 181.60 h-1.7"/>
<path d="M57.2 175.14 h1.7 M329.0 175.14 h-1.7"/>
<path d="M57.2 203.70 h3 M329.0 203.70 h-3"/>
</g>
<rect x="57.2" y="13.95" width="271.8" height="189.75" fill="none" stroke="#111" stroke-width="0.85"/>
<polyline points="57.3,14.7 59.8,14.7 63.2,14.7 67.3,14.7 71.3,14.8 75.0,14.8 78.3,14.9 81.4,14.9 84.5,15.0 87.4,15.1 90.0,15.2 92.3,15.3 94.4,15.5 96.2,15.7 98.1,15.9 100.0,16.1 101.9,16.4 103.8,16.7 105.7,17.0 107.7,17.4 110.0,17.9 112.6,18.4 115.4,19.0 118.4,19.7 121.4,20.4 124.3,21.3 127.2,22.3 130.0,23.4 132.9,24.7 135.7,25.9 138.6,27.3 141.5,28.7 144.3,30.2 147.2,31.8 150.0,33.4 152.9,35.0 155.7,36.6 158.6,38.2 161.4,39.8 164.3,41.4 167.1,43.0 170.0,44.6 172.8,46.1 175.7,47.7 178.5,49.2 181.4,50.7 184.3,52.2 187.1,53.6 190.0,55.1 192.8,56.5 195.7,57.9 198.5,59.3 201.1,60.6 203.9,62.0 206.8,63.4 210.0,65.0 213.7,66.7 217.7,68.6 221.9,70.5 226.1,72.4 230.0,74.3 233.6,76.1 237.0,77.8 240.3,79.5 243.6,81.2 247.0,82.9 250.4,84.6 253.9,86.3 257.4,88.0 260.8,89.7 264.3,91.4 267.9,93.2 271.6,95.1 275.2,96.9 278.5,98.6 281.4,100.0 283.7,101.1 285.5,101.9 287.0,102.5 288.4,103.1 290.0,103.7 291.7,104.4 293.4,105.0 295.0,105.7 296.8,106.3 298.6,106.9 300.6,107.5 302.7,108.0 304.8,108.6 306.9,109.0 308.9,109.4 310.8,109.7 312.5,109.9 314.3,110.0 316.1,110.1 318.0,110.1 320.3,110.1 322.9,110.0 325.4,109.9 327.6,109.9 329.2,109.8" fill="none" stroke="#f4000c" stroke-width="2.0" stroke-dasharray="4.8 1.9"/>
<rect x="105.0" y="77.8" width="119.0" height="93.8" fill="#fff"/>
<g clip-path="url(#ci)" fill="none" stroke-linejoin="round">
<polyline points="105.4,78.5 105.9,78.6 106.6,78.8 107.3,79.0 108.0,79.2 108.5,79.4 109.0,79.6 109.5,79.9 110.0,80.2 110.6,80.6 111.2,81.1 111.9,81.7 112.5,82.3 113.1,83.0 113.8,83.7 114.4,84.4 115.0,85.2 115.5,86.1 116.1,87.0 116.6,87.9 117.0,88.8 117.4,89.6 117.8,90.3 118.1,91.0 118.4,91.6 118.7,92.2 119.0,92.8 119.2,93.2 119.5,93.4 119.8,93.3 120.0,93.0 120.3,92.6 120.6,92.2 120.9,91.8 121.2,91.5 121.5,91.1 121.8,90.8 122.1,90.6 122.4,90.4 122.7,90.2 123.0,90.2 123.4,90.3 123.8,90.4 124.1,90.6 124.5,91.0 124.8,91.4 125.1,92.0 125.3,92.6 125.6,93.5 125.8,94.5 126.1,95.7 126.3,97.2 126.5,99.0 126.7,101.9 127.0,105.5 127.3,108.6 127.5,110.0 127.7,108.9 127.9,106.0 128.1,102.6 128.3,100.0 128.5,98.4 128.6,97.1 128.8,96.0 129.0,95.0 129.2,93.9 129.5,93.0 129.8,92.1 130.0,91.5 130.2,91.1 130.4,90.8 130.6,90.9 130.8,91.3 131.1,92.2 131.4,93.5 131.7,95.1 132.0,97.0 132.3,99.6 132.7,102.9 133.1,105.7 133.4,107.0 133.7,106.2 133.9,103.9 134.1,101.1 134.3,99.0 134.5,97.7 134.6,96.7 134.8,95.8 135.0,95.0 135.2,94.0 135.5,93.1 135.7,92.3 136.0,92.0 136.2,92.5 136.5,93.6 136.8,94.7 137.0,95.0 137.2,94.3 137.5,92.9 137.8,91.4 138.0,90.0 138.2,88.9 138.5,87.8 138.8,86.8 139.0,86.0 139.2,85.2 139.5,84.4 139.8,83.9 140.0,84.0 140.2,85.0 140.5,86.8 140.8,88.6 141.0,90.0 141.2,90.9 141.5,91.6 141.8,92.0 142.0,92.0 142.2,91.2 142.5,89.9 142.8,88.6 143.0,88.0 143.3,87.6 143.5,87.2 143.8,88.2 144.0,92.0 144.2,100.6 144.3,112.8 144.3,124.8 144.4,133.0 144.9,92.0 145.6,86.0 144.6,90.3 144.9,87.7 145.2,87.3 145.5,85.5 145.8,85.7 146.0,91.3 146.3,94.6 146.6,87.0 146.8,83.7 147.1,83.3 147.3,86.0 147.6,96.4 147.8,88.0 148.0,85.7 148.2,86.2 148.5,92.8 148.7,87.8 148.9,84.5 149.1,87.3 149.3,105.7 149.5,88.7 149.7,84.4 149.9,83.3 150.1,86.0 150.2,102.6 150.4,91.4 150.6,88.6 150.8,85.9 150.9,86.7 151.1,93.3 151.3,89.4 151.4,88.2 151.6,89.4 151.8,92.6 151.9,93.6 152.1,84.5 152.2,83.2 152.4,87.4 152.5,107.4 152.7,90.8 152.8,85.0 152.9,84.5 153.1,91.8 153.2,92.7 153.4,86.9 153.5,87.6 153.6,90.4 153.8,107.1 153.9,87.6 154.0,83.5 154.1,85.2 154.3,91.5 154.4,109.6 154.5,89.5 154.6,84.5 154.7,86.6 154.9,95.7 155.0,90.9 155.1,89.4 155.2,89.2 155.3,94.1 155.4,95.4 155.5,85.2 155.6,84.4 155.7,87.5 155.9,92.9 156.0,102.8 156.1,86.4 156.2,83.8 156.3,86.6 156.3,149.4 156.4,92.0 156.5,101.4 156.6,89.8 156.7,87.0 156.8,96.8 156.9,91.6 157.0,84.5 157.0,84.1 157.1,87.2 157.2,97.1 157.3,87.0 157.4,82.3 157.5,84.2 157.6,90.8 157.7,98.5 157.8,96.2 157.9,89.6 158.0,92.5 158.0,93.0 158.1,87.7 158.2,88.9 158.3,89.7 158.4,92.5 158.5,108.5 158.5,87.3 158.6,83.7 158.7,84.0 158.8,87.3 158.9,101.2 158.9,88.3 159.0,84.7 159.1,89.4 159.2,95.9 159.2,92.1 159.3,87.8 159.4,87.8 159.5,101.2 159.5,90.1 159.6,83.8 159.7,83.9 159.8,86.3 159.8,95.2 159.9,96.8 160.0,86.9 160.0,87.2 160.1,89.5 160.2,92.5 160.3,96.9 160.3,89.8 160.4,92.9 160.5,108.1 160.5,89.0 160.6,85.5 160.7,84.4 160.7,87.3 160.8,101.7 160.9,90.0 160.9,85.7 161.0,85.6 161.1,87.3 161.1,99.2 161.2,96.6 161.2,90.1 161.3,96.3 161.4,96.8 161.4,90.6 161.5,85.5 161.6,83.9 161.6,90.7 161.7,94.5 161.7,85.0 161.8,83.0 161.9,84.2 161.9,92.3 162.0,105.9 162.0,90.0 162.1,92.8 162.1,96.0 162.2,90.8 162.3,90.0 162.3,88.1 162.4,92.4 162.4,131.0 162.5,93.1 162.5,88.0 162.6,84.0 162.6,84.3 162.7,94.9 162.8,98.3 162.8,88.1 162.9,86.1 162.9,88.4 163.0,105.4 163.0,91.3 163.1,86.2 163.1,94.1 163.2,108.1 163.2,89.6 163.3,84.0 163.3,83.4 163.4,91.5 163.4,103.9 163.5,89.8 163.5,88.3 163.6,88.2 163.6,93.5 163.7,102.7 163.7,90.6 163.8,91.8 163.8,97.4 163.9,99.5 163.9,94.1 164.0,85.4 164.0,85.9 164.1,98.6 164.1,103.9 164.2,91.3 164.2,86.2 164.3,87.2 164.3,103.6 164.4,94.5 164.4,88.6 164.5,91.2 164.5,96.6 164.5,109.6 164.6,87.9 164.6,83.4 164.7,87.5 164.7,102.3 164.8,104.7 164.8,88.4 164.9,84.3 164.9,90.1 164.9,106.3 165.0,91.0 165.0,90.5 165.1,94.5 165.1,113.2 165.2,90.9 165.2,83.2 165.2,84.6 165.3,93.6 165.3,115.3 165.4,96.8 165.4,85.6 165.5,84.3 165.5,89.2 165.5,95.7 165.6,110.5 165.6,93.3 165.7,90.2 165.7,100.8 165.7,89.8 165.8,84.4 165.8,86.2 165.9,93.1 165.9,96.0 165.9,82.9 166.0,80.9 166.0,82.6 166.1,93.5 166.1,134.7 166.1,93.9 166.2,88.4 166.2,92.5 166.3,91.1 166.3,86.6 166.3,90.8 166.4,102.5 166.4,116.4 166.5,90.6 166.5,82.6 166.5,82.3 166.6,86.6 166.6,95.1 166.6,95.1 166.7,83.8 166.7,82.0 166.8,87.1 166.8,95.3 166.8,102.6 166.9,96.1 166.9,95.4 166.9,103.4 167.0,86.5 167.0,82.8 167.0,85.9 167.1,93.9 167.1,101.3 167.1,85.6 167.2,81.4 167.2,83.6 167.3,91.6 167.3,113.1 167.3,95.5 167.4,87.5 167.4,91.6 167.4,97.5 167.5,88.7 167.5,89.0 167.5,93.6 167.6,109.4 167.6,94.2 167.6,84.3 167.7,84.4 167.7,90.5 167.7,100.2 167.8,106.3 167.8,88.0 167.8,85.5 167.9,91.3 167.9,100.1 167.9,99.2 168.0,89.0 168.0,86.9 168.0,99.2 168.1,86.2 168.1,86.3 168.2,129.1 168.2,89.3 168.3,83.8 168.3,117.4 168.4,87.8 168.4,85.5 168.5,122.6 168.5,93.8 168.6,87.2 168.6,88.2 168.7,102.5 168.7,93.5 168.8,96.2 168.8,84.3 168.9,93.2 168.9,98.7 169.0,81.7 169.0,89.5 169.1,107.0 169.1,88.4 169.2,92.5 169.2,88.8 169.3,105.5 169.3,89.5 169.4,81.3 169.4,95.2 169.5,85.8 169.5,82.6 169.6,103.5 169.6,102.4 169.7,90.0 169.7,84.5 169.8,92.3 169.8,96.9 169.9,80.8 169.9,84.7 170.0,100.1 170.0,87.9 170.1,92.5 170.1,86.7 170.2,101.9 170.2,82.2 170.3,101.3 170.3,98.4 170.4,83.8 170.4,83.8 170.5,105.7 170.5,97.3 170.6,85.9 170.6,83.5 170.7,102.8 170.7,83.5 170.8,103.1 170.8,89.4 170.9,98.3 170.9,87.9 171.0,99.0 171.0,99.8 171.1,86.8 171.1,110.9 171.2,87.8 171.2,120.5 171.3,84.7 171.3,124.3 171.4,85.7 171.4,90.1 171.5,96.6 171.5,106.0 171.6,82.6 171.6,98.0 171.7,83.5 171.7,84.5 171.8,107.1 171.8,98.0 171.9,87.0 171.9,99.7 172.0,84.6 172.0,81.0 172.1,95.4 172.1,84.2 172.2,92.5 172.2,110.7 172.3,81.3 172.3,82.5 172.4,95.6 172.4,83.2 172.5,114.8 172.5,98.0 172.6,86.0 172.6,100.0 172.7,81.7 172.7,83.5 172.8,104.1 172.8,95.4 172.9,89.3 172.9,100.0 173.0,84.4 173.0,99.4 173.1,86.7 173.1,89.0 173.2,99.7 173.2,86.5 173.3,99.6 173.3,86.4 173.4,110.2 173.4,82.9 173.5,117.2 173.5,84.8 173.6,111.5 173.6,96.2 173.7,89.2 173.7,109.8 173.8,81.6 173.8,108.2 173.9,85.1 173.9,90.6 174.0,105.4 174.0,81.7 174.1,101.0 174.1,81.7 174.2,101.1 174.2,85.4 174.3,99.3 174.3,109.0 174.4,81.5 174.4,107.3 174.5,84.8 174.5,105.8 174.6,81.0 174.6,84.8 174.7,102.6 174.7,97.4 174.8,93.5 174.8,84.9 174.9,102.4 174.9,82.5 175.0,111.5 175.0,84.3 175.1,145.7 175.1,84.3 175.2,101.3 175.2,104.8 175.3,86.9 175.3,105.1 175.4,84.4 175.4,117.2 175.5,87.5 175.5,99.5 175.6,83.0 175.6,104.6 175.7,86.9 175.7,107.6 175.8,85.9 175.8,103.3 175.9,85.8 175.9,106.0 176.0,83.6 176.0,84.9 176.1,96.8 176.1,103.4 176.2,88.4 176.2,101.7 176.3,84.2 176.3,100.0 176.4,87.0 176.4,101.7 176.5,81.7 176.5,109.8 176.6,86.7 176.6,116.8 176.7,83.6 176.7,105.7 176.8,84.3 176.8,105.7 176.9,81.5 176.9,84.4 177.0,108.3 177.0,87.4 177.1,106.7 177.1,84.2 177.2,102.0 177.2,112.9 177.3,84.3 177.3,107.8 177.4,88.4 177.4,85.5 177.5,105.5 177.5,105.8 177.6,88.1 177.6,80.9 177.7,104.0 177.7,85.7 177.8,123.4 177.8,82.6 177.9,97.8 177.9,108.0 178.0,83.6 178.0,80.9 178.1,99.7 178.1,88.0 178.2,104.6 178.2,82.7 178.3,101.7 178.3,104.0 178.4,86.8 178.4,83.0 178.5,124.4 178.5,112.2 178.6,89.1 178.6,85.7 178.7,121.1 178.7,81.4 178.8,113.7 178.8,118.2 178.9,81.5 178.9,82.1 179.0,103.6 179.0,103.0 179.1,80.4 179.1,84.6 179.2,114.2 179.2,80.6 179.3,99.2 179.3,107.0 179.4,84.3 179.4,80.7 179.5,111.2 179.5,104.2 179.6,85.1 179.6,85.6 179.7,125.1 179.7,86.3 179.8,100.3 179.8,84.7 179.9,105.7 179.9,110.0 180.0,83.5 180.0,82.2 180.1,96.1 180.1,105.6 180.2,81.7 180.2,84.9 180.3,104.3 180.3,98.5 180.4,81.6 180.4,101.5 180.5,83.9 180.5,85.8 180.6,103.7 180.6,103.2 180.7,84.9 180.7,83.4 180.8,118.2 180.8,83.9 180.9,114.6 180.9,103.1 181.0,82.4 181.0,82.0 181.1,106.7 181.1,133.2 181.2,82.0 181.2,113.3 181.3,80.8 181.3,103.6 181.4,83.2 181.4,82.2 181.5,107.6 181.5,112.2 181.6,83.0 181.6,106.1 181.7,84.1 181.7,121.3 181.8,85.6 181.8,84.2 181.9,105.2 181.9,114.2 182.0,86.4 182.0,108.5 182.1,83.3 182.1,104.7 182.2,83.5 182.2,111.7 182.3,83.5 182.3,81.3 182.4,122.3 182.4,81.9 182.5,108.3 182.5,80.7 182.6,121.0 182.6,83.6 182.7,146.8 182.7,83.7 182.8,108.9 182.8,85.5 182.9,109.8 182.9,107.2 183.0,83.3 183.0,102.6 183.1,82.9 183.1,100.6 183.2,84.6 183.2,80.7 183.3,97.2 183.3,104.5 183.4,82.5 183.4,100.5 183.5,83.1 183.5,85.5 183.6,109.8 183.6,83.4 183.7,113.4 183.7,82.2 183.8,112.0 183.8,109.5 183.9,80.4 183.9,111.8 184.0,80.2 184.0,111.9 184.1,80.2 184.1,82.7 184.2,118.9 184.2,84.9 184.3,113.5 184.3,84.6 184.4,110.7 184.4,123.5 184.5,84.3 184.5,82.0 184.6,105.6 184.6,103.0 184.7,80.7 184.7,102.3 184.8,82.9 184.8,111.7 184.9,84.6 184.9,83.8 185.0,122.1 185.0,83.3 185.1,113.1 185.1,82.2 185.2,107.9 185.2,82.5 185.3,114.7 185.3,102.6 185.4,81.9 185.4,115.8 185.5,82.1 185.5,83.7 185.6,108.0 185.6,103.7 185.7,84.8 185.7,120.3 185.8,86.5 185.8,106.1 185.9,84.1 185.9,84.8 186.0,120.4 186.0,108.3 186.1,81.4 186.1,111.5 186.2,80.1 186.2,109.1 186.3,82.9 186.3,111.2 186.4,82.9 186.4,104.1 186.5,85.8 186.5,101.8 186.6,83.3 186.6,102.8 186.7,80.4 186.7,101.6 186.8,82.3 186.8,82.2 186.9,105.5 186.9,114.9 187.0,84.8 187.0,83.1 187.1,121.4 187.1,80.5 187.2,108.8 187.2,112.0 187.3,80.3 187.3,80.7 187.4,114.2 187.4,106.2 187.5,82.5 187.5,109.3 187.6,85.4 187.6,81.7 187.7,118.9 187.7,115.2 187.8,81.2 187.8,83.1 187.9,114.0 187.9,81.8 188.0,115.0 188.0,81.9 188.1,114.5 188.1,83.9 188.2,106.8 188.2,82.7 188.3,110.0 188.3,82.4 188.4,102.0 188.4,84.1 188.5,109.8 188.5,84.6 188.6,112.5 188.6,82.5 188.7,104.7 188.7,81.8 188.8,110.6 188.8,109.2 188.9,80.2 188.9,81.0 189.0,111.2 189.0,80.6 189.1,113.3 189.1,114.5 189.2,82.6 189.2,100.0 189.3,80.3 189.3,110.7 189.4,80.7 189.4,81.6 189.5,117.5 189.5,113.4 189.6,83.0 189.6,138.0 189.7,82.2 189.7,115.5 189.8,80.8 189.8,109.6 189.9,82.1 189.9,104.2 190.0,83.5 190.0,81.9 190.1,126.8 190.1,80.7 190.2,110.2 190.2,135.9 190.3,81.4 190.3,83.3 190.4,111.3 190.4,84.0 190.5,118.5 190.5,121.8 190.6,82.9 190.6,82.6 190.7,117.0 190.7,126.1 190.8,82.3 190.8,83.1 190.9,118.8 190.9,109.1 191.0,81.3 191.0,111.1 191.1,80.7 191.1,80.2 191.2,112.3 191.2,114.0 191.3,83.5 191.3,122.7 191.4,80.2 191.4,79.9 191.5,113.2 191.5,118.7 191.6,81.7 191.6,118.7 191.7,82.2 191.7,81.6 191.8,112.4 191.8,82.4 191.9,105.3 191.9,82.6 192.0,117.7 192.0,81.1 192.1,121.9 192.1,82.1 192.2,111.1 192.2,81.8 192.3,115.9 192.3,84.8 192.4,116.4 192.4,115.2 192.5,80.7 192.5,124.2 192.6,80.9 192.6,134.7 192.7,83.3 192.7,111.6 192.8,81.6 192.8,80.4 192.9,106.2 192.9,84.6 193.0,116.5 193.0,80.2 193.1,110.1 193.1,79.8 193.2,144.0 193.2,81.3 193.3,119.7 193.3,110.3 193.4,82.5 193.4,82.0 193.5,135.5 193.5,84.5 193.6,114.6 193.6,112.5 193.7,80.3 193.7,118.8 193.8,82.7 193.8,82.7 193.9,113.7 193.9,117.4 194.0,83.3 194.0,80.1 194.1,115.9 194.1,80.3 194.2,117.3 194.2,82.4 194.3,139.0 194.3,108.6 194.4,80.9 194.4,82.3 194.5,111.7 194.5,113.5 194.6,80.1 194.6,80.6 194.7,129.4 194.7,132.4 194.8,83.7 194.8,116.2 194.9,80.8 194.9,83.3 195.0,115.5 195.0,117.0 195.1,81.8 195.1,82.9 195.2,146.4 195.2,83.4 195.3,127.7 195.3,114.9 195.4,81.6 195.4,80.0 195.5,122.6 195.5,108.8 195.6,81.4 195.6,111.6 195.7,80.0 195.7,80.5 195.8,122.3 195.8,134.0 195.9,81.1 195.9,80.5 196.0,120.9 196.0,81.9 196.1,114.4 196.1,81.1 196.2,124.7 196.2,82.0 196.3,111.6 196.3,83.1 196.4,115.9 196.4,81.4 196.5,113.9 196.5,116.1 196.6,82.2 196.6,80.0 196.7,140.8 196.7,83.2 196.8,122.4 196.8,115.0 196.9,79.8 196.9,81.3 197.0,121.0 197.0,81.8 197.1,125.6 197.1,82.4 197.2,119.6 197.2,116.9 197.3,79.9 197.3,81.3 197.4,119.9 197.4,120.7 197.5,82.2 197.5,80.0 197.6,131.2 197.6,121.8 197.7,82.1 197.7,122.2 197.8,82.5 197.8,121.6 197.9,79.9 197.9,79.8 198.0,125.5 198.0,145.2 198.1,82.6 198.1,121.8 198.2,82.6 198.2,132.4 198.3,81.1 198.3,82.3 198.4,118.3 198.4,123.9 198.5,82.4 198.5,80.1 198.6,116.6 198.6,138.1 198.7,82.4 198.7,81.5 198.8,114.4 198.8,115.6 198.9,80.0 198.9,81.2 199.0,127.5 199.0,127.0 199.1,81.5 199.1,82.7 199.2,121.8 199.2,82.1 199.3,127.5 199.3,117.1 199.4,82.5 199.4,116.1 199.5,79.8 199.5,123.0 199.6,80.5 199.6,81.6 199.7,118.3 199.7,79.7 199.8,131.3 199.8,80.9 199.9,133.5 199.9,81.1 200.0,135.7 200.0,131.5 200.1,83.0 200.1,82.0 200.2,122.7 200.2,118.0 200.3,81.0 200.3,123.6 200.4,81.0 200.4,79.9 200.5,116.3 200.5,80.9 200.6,113.9 200.6,80.6 200.7,121.6 200.7,81.7 200.8,117.4 200.8,118.6 200.9,81.8 200.9,80.6 201.0,122.6 201.0,81.4 201.1,120.4 201.1,128.9 201.2,79.8 201.2,118.0 201.3,82.5 201.3,81.7 201.4,115.4 201.4,126.3 201.5,81.3 201.5,126.7 201.6,82.5 201.6,80.2 201.7,132.8 201.7,81.5 201.8,140.8 201.8,79.6 201.9,130.1 201.9,124.5 202.0,80.8 202.0,82.6 202.1,131.6 202.1,81.9 202.2,120.9 202.2,120.8 202.3,80.4 202.3,129.8 202.4,81.3 202.4,81.1 202.5,120.9 202.5,118.5 202.6,80.1 202.6,80.0 202.7,117.4 202.7,82.8 202.8,128.7 202.8,127.3 202.9,82.1 202.9,80.9 203.0,121.8 203.0,80.0 203.1,114.3 203.1,108.7 203.2,81.2 203.2,132.0 203.3,80.6 203.3,82.9 203.4,134.1 203.4,81.2 203.5,120.8 203.5,112.7 203.6,80.9 203.6,122.7 203.7,79.4 203.7,81.8 203.8,120.6 203.8,136.4 203.9,80.9 203.9,117.6 204.0,81.0 204.0,81.4 204.1,123.4 204.1,130.5 204.2,79.3 204.2,80.7 204.3,139.7 204.3,81.4 204.4,112.5 204.4,82.6 204.5,140.3 204.5,80.0 204.6,124.3 204.6,80.4 204.7,123.7 204.7,80.1 204.8,117.2 204.8,80.2 204.9,129.9 204.9,81.6 205.0,123.8 205.0,147.3 205.1,80.2 205.1,143.7 205.2,79.5 205.2,80.5 205.3,122.5 205.3,80.4 205.4,129.7 205.4,81.4 205.5,125.1 205.5,80.3 205.6,136.1 205.6,79.3 205.7,128.5 205.7,81.2 205.8,112.8 205.8,146.8 205.9,81.0 205.9,79.7 206.0,116.7 206.0,111.2 206.1,79.5 206.1,79.4 206.2,121.5 206.2,81.9 206.3,124.2 206.3,139.9 206.4,79.8 206.4,80.9 206.5,126.8 206.5,127.9 206.6,79.5 206.6,80.7 206.7,136.5 206.7,118.9 206.8,81.8 206.8,79.4 206.9,123.8 206.9,80.9 207.0,117.3 207.0,139.2 207.1,81.1 207.1,126.8 207.2,81.5 207.2,120.1 207.3,79.5 207.3,80.2 207.4,123.5 207.4,81.1 207.5,128.3 207.5,130.8 207.6,80.7 207.6,114.3 207.7,79.5 207.7,79.5 207.8,145.1 207.8,128.4 207.9,82.1 207.9,79.9 208.0,121.7 208.0,138.3 208.1,79.8 208.1,81.2 208.2,133.1 208.2,81.9 208.3,131.0 208.3,122.3 208.4,79.7 208.4,81.7 208.5,126.8 208.5,80.4 208.6,128.2 208.6,161.8 208.7,80.7 208.7,127.1 208.8,79.2 208.8,123.7 208.9,81.7 208.9,79.8 209.0,122.3 209.0,122.2 209.1,79.3 209.1,127.0 209.2,82.1 209.2,134.3 209.3,79.4 209.3,80.7 209.4,122.8 209.4,80.1 209.5,131.9 209.5,123.6 209.6,83.3 209.6,79.7 209.7,124.8 209.7,81.6 209.8,141.8 209.8,119.6 209.9,80.7 209.9,135.5 210.0,80.4 210.0,79.8 210.1,120.0 210.1,129.4 210.2,80.3 210.2,126.4 210.3,80.8 210.3,79.6 210.4,126.4 210.4,81.2 210.5,120.7 210.5,79.7 210.6,123.2 210.6,80.5 210.7,131.3 210.7,134.0 210.8,80.1 210.8,79.8 210.9,132.6 210.9,80.7 211.0,126.2 211.0,142.7 211.1,81.0 211.1,128.8 211.2,79.8 211.2,80.8 211.3,141.4 211.3,136.5 211.4,79.6 211.4,80.3 211.5,125.2 211.5,121.5 211.6,80.0 211.6,131.5 211.7,79.6 211.7,80.5 211.8,137.0 211.8,131.2 211.9,80.0 211.9,80.2 212.0,136.7 212.0,132.2 212.1,80.9 212.1,132.8 212.2,79.3 212.2,154.5 212.3,80.4 212.3,145.5 212.4,79.2 212.4,124.5 212.5,81.8 212.5,132.5 212.6,80.1 212.6,79.4 212.7,132.5 212.7,129.9 212.8,79.5 212.8,129.8 212.9,80.4 212.9,80.9 213.0,144.5 213.0,138.9 213.1,79.6 213.1,80.2 213.2,130.0 213.2,122.2 213.3,79.3 213.3,81.1 213.4,134.7 213.4,80.4 213.5,148.9 213.5,79.9 213.6,129.7 213.6,127.8 213.7,80.0 213.7,127.0 213.8,80.1 213.8,144.9 213.9,79.6 213.9,79.0 214.0,152.1 214.0,125.9 214.1,80.4 214.1,79.4 214.2,158.5 214.2,127.2 214.3,80.2 214.3,79.1 214.4,130.3 214.4,133.9 214.5,79.5 214.5,80.5 214.6,124.9 214.6,118.1 214.7,79.5 214.7,80.9 214.8,126.0 214.8,137.9 214.9,79.5 214.9,132.7 215.0,82.2 215.0,79.2 215.1,130.2 215.1,138.7 215.2,81.4 215.2,79.7 215.3,155.0 215.3,153.7 215.4,80.4 215.4,79.9 215.5,125.2 215.5,141.1 215.6,80.3 215.6,79.4 215.7,130.5 215.7,128.9 215.8,80.1 215.8,130.9 215.9,80.4 215.9,122.6 216.0,80.8 216.0,80.4 216.1,133.1 216.1,80.3 216.2,143.5 216.2,137.0 216.3,79.6 216.3,130.7 216.4,80.7 216.4,127.3 216.5,79.9 216.5,133.6 216.6,79.9 216.6,79.5 216.7,124.7 216.7,141.5 216.8,79.6 216.8,80.5 216.9,137.6 216.9,79.8 217.0,135.8 217.0,134.3 217.1,79.6 217.1,130.9 217.2,80.0 217.2,79.5 217.3,133.1 217.3,79.4 217.4,155.1 217.4,130.0 217.5,79.1 217.5,145.2 217.6,81.2 217.6,133.2 217.7,78.9 217.7,137.1 217.8,80.0 217.8,125.4 217.9,80.2 217.9,145.9 218.0,79.9 218.0,135.3 218.1,79.0 218.1,79.6 218.2,124.6 218.2,130.1 218.3,80.2 218.3,151.4 218.4,80.8 218.4,79.2 218.5,154.5 218.5,146.0 218.6,79.3 218.6,142.6 218.7,80.6 218.7,80.1 218.8,127.4 218.8,135.6 218.9,80.1 218.9,131.2 219.0,80.0 219.0,150.5 219.1,80.6 219.1,139.2 219.2,80.0 219.2,136.5 219.3,79.4 219.3,79.4 219.4,141.9 219.4,147.6 219.5,79.9 219.5,80.3 219.6,166.7 219.6,144.1 219.7,79.3 219.7,134.3 219.8,80.5 219.8,79.3 219.9,155.7 219.9,79.9 220.0,129.2 220.0,79.0 220.1,139.8 220.1,143.1 220.2,79.1 220.2,80.0 220.3,134.3 220.3,79.6 220.4,142.3 220.4,141.5 220.5,79.1 220.5,128.9 220.6,80.0 220.6,167.7 220.7,79.5 220.7,148.5 220.8,78.9 220.8,146.2 220.9,79.3 220.9,169.0 221.0,79.3 221.0,79.8 221.1,139.3 221.1,141.4 221.2,79.8 221.2,79.6 221.3,132.2 221.3,80.0 221.4,146.0 221.4,79.9 221.5,130.4 221.5,146.2 221.6,80.1 221.6,139.2 221.7,79.9 221.7,79.8 221.8,153.1 221.8,144.1 221.9,80.1 221.9,130.9 222.0,79.1 222.0,134.9 222.1,79.3 222.1,141.4 222.2,79.8 222.2,138.1 222.3,79.5 222.3,79.8 222.4,165.9 222.4,79.5 222.5,145.6 222.5,79.6 222.6,133.8 222.6,137.2 222.7,79.1 222.7,137.4 222.8,79.4 222.8,78.8 222.9,144.7 222.9,80.0 223.0,140.2 223.0,79.6 223.1,139.3 223.1,79.0 223.2,127.7 223.2,125.4 223.3,79.7 223.3,166.2 223.4,80.1 223.4,79.7 223.5,148.4 223.5,79.8 223.6,149.8 223.6,79.9 223.7,136.0 223.7,79.3 223.8,143.4 223.8,79.4 223.9,169.0 223.9,79.5 224.0,142.8" stroke="#0077bb" stroke-width="1.1"/>
<path d="M105.0 90.6 H224.0" stroke="#111" stroke-width="1.8" stroke-dasharray="4.1 1.6" stroke-dashoffset="0.7"/>
</g>
<g stroke="#222" stroke-width="0.7" fill="none">
<path d="M105.00 171.6 v-2.2 M105.00 77.8 v2.2"/>
<path d="M112.16 171.6 v-1.2 M112.16 77.8 v1.2"/>
<path d="M116.36 171.6 v-1.2 M116.36 77.8 v1.2"/>
<path d="M119.33 171.6 v-1.2 M119.33 77.8 v1.2"/>
<path d="M121.64 171.6 v-1.2 M121.64 77.8 v1.2"/>
<path d="M123.52 171.6 v-1.2 M123.52 77.8 v1.2"/>
<path d="M125.11 171.6 v-1.2 M125.11 77.8 v1.2"/>
<path d="M126.49 171.6 v-1.2 M126.49 77.8 v1.2"/>
<path d="M127.71 171.6 v-1.2 M127.71 77.8 v1.2"/>
<path d="M128.80 171.6 v-2.2 M128.80 77.8 v2.2"/>
<path d="M135.96 171.6 v-1.2 M135.96 77.8 v1.2"/>
<path d="M140.16 171.6 v-1.2 M140.16 77.8 v1.2"/>
<path d="M143.13 171.6 v-1.2 M143.13 77.8 v1.2"/>
<path d="M145.44 171.6 v-1.2 M145.44 77.8 v1.2"/>
<path d="M147.32 171.6 v-1.2 M147.32 77.8 v1.2"/>
<path d="M148.91 171.6 v-1.2 M148.91 77.8 v1.2"/>
<path d="M150.29 171.6 v-1.2 M150.29 77.8 v1.2"/>
<path d="M151.51 171.6 v-1.2 M151.51 77.8 v1.2"/>
<path d="M152.60 171.6 v-2.2 M152.60 77.8 v2.2"/>
<path d="M159.76 171.6 v-1.2 M159.76 77.8 v1.2"/>
<path d="M163.96 171.6 v-1.2 M163.96 77.8 v1.2"/>
<path d="M166.93 171.6 v-1.2 M166.93 77.8 v1.2"/>
<path d="M169.24 171.6 v-1.2 M169.24 77.8 v1.2"/>
<path d="M171.12 171.6 v-1.2 M171.12 77.8 v1.2"/>
<path d="M172.71 171.6 v-1.2 M172.71 77.8 v1.2"/>
<path d="M174.09 171.6 v-1.2 M174.09 77.8 v1.2"/>
<path d="M175.31 171.6 v-1.2 M175.31 77.8 v1.2"/>
<path d="M176.40 171.6 v-2.2 M176.40 77.8 v2.2"/>
<path d="M183.56 171.6 v-1.2 M183.56 77.8 v1.2"/>
<path d="M187.76 171.6 v-1.2 M187.76 77.8 v1.2"/>
<path d="M190.73 171.6 v-1.2 M190.73 77.8 v1.2"/>
<path d="M193.04 171.6 v-1.2 M193.04 77.8 v1.2"/>
<path d="M194.92 171.6 v-1.2 M194.92 77.8 v1.2"/>
<path d="M196.51 171.6 v-1.2 M196.51 77.8 v1.2"/>
<path d="M197.89 171.6 v-1.2 M197.89 77.8 v1.2"/>
<path d="M199.11 171.6 v-1.2 M199.11 77.8 v1.2"/>
<path d="M200.20 171.6 v-2.2 M200.20 77.8 v2.2"/>
<path d="M207.36 171.6 v-1.2 M207.36 77.8 v1.2"/>
<path d="M211.56 171.6 v-1.2 M211.56 77.8 v1.2"/>
<path d="M214.53 171.6 v-1.2 M214.53 77.8 v1.2"/>
<path d="M216.84 171.6 v-1.2 M216.84 77.8 v1.2"/>
<path d="M218.72 171.6 v-1.2 M218.72 77.8 v1.2"/>
<path d="M220.31 171.6 v-1.2 M220.31 77.8 v1.2"/>
<path d="M221.69 171.6 v-1.2 M221.69 77.8 v1.2"/>
<path d="M222.91 171.6 v-1.2 M222.91 77.8 v1.2"/>
<path d="M224.00 171.6 v-2.2 M224.00 77.8 v2.2"/>
<path d="M105.0 77.80 h2.2 M224.0 77.80 h-2.2"/>
<path d="M105.0 109.07 h2.2 M224.0 109.07 h-2.2"/>
<path d="M105.0 140.33 h2.2 M224.0 140.33 h-2.2"/>
<path d="M105.0 171.60 h2.2 M224.0 171.60 h-2.2"/>
<path d="M105.0 93.43 h1.2 M224.0 93.43 h-1.2"/>
<path d="M105.0 124.70 h1.2 M224.0 124.70 h-1.2"/>
<path d="M105.0 155.97 h1.2 M224.0 155.97 h-1.2"/>
</g>
<rect x="105.0" y="77.8" width="119.0" height="93.8" fill="none" stroke="#111" stroke-width="0.85"/>
<text transform="translate(45.90,218.50) scale(0.94,1.05)" font-size="12">10</text><path d="M57.66 211.84 h4.62" stroke="#555" stroke-width="0.66" fill="none"/><text x="62.82" y="214.48" font-size="8.04">2</text>
<text transform="translate(91.20,218.50) scale(0.94,1.05)" font-size="12">10</text><path d="M102.96 211.84 h4.62" stroke="#555" stroke-width="0.66" fill="none"/><text x="108.12" y="214.48" font-size="8.04">1</text>
<text transform="translate(139.44,218.50) scale(0.94,1.05)" font-size="12">10</text><text x="150.48" y="214.48" font-size="8.04">0</text>
<text transform="translate(184.74,218.50) scale(0.94,1.05)" font-size="12">10</text><text x="195.78" y="214.48" font-size="8.04">1</text>
<text transform="translate(230.04,218.50) scale(0.94,1.05)" font-size="12">10</text><text x="241.08" y="214.48" font-size="8.04">2</text>
<text transform="translate(275.34,218.50) scale(0.94,1.05)" font-size="12">10</text><text x="286.38" y="214.48" font-size="8.04">3</text>
<text transform="translate(320.64,218.50) scale(0.94,1.05)" font-size="12">10</text><text x="331.68" y="214.48" font-size="8.04">4</text>
<text transform="translate(34.24,17.30) scale(0.94,1.05)" font-size="12">10</text><text x="45.28" y="13.28" font-size="8.04">0</text>
<text transform="translate(28.36,48.93) scale(0.94,1.05)" font-size="12">10</text><path d="M40.12 42.27 h4.62" stroke="#555" stroke-width="0.66" fill="none"/><text x="45.28" y="44.91" font-size="8.04">1</text>
<text transform="translate(28.36,80.55) scale(0.94,1.05)" font-size="12">10</text><path d="M40.12 73.89 h4.62" stroke="#555" stroke-width="0.66" fill="none"/><text x="45.28" y="76.53" font-size="8.04">2</text>
<text transform="translate(28.36,112.17) scale(0.94,1.05)" font-size="12">10</text><path d="M40.12 105.52 h4.62" stroke="#555" stroke-width="0.66" fill="none"/><text x="45.28" y="108.16" font-size="8.04">3</text>
<text transform="translate(28.36,143.80) scale(0.94,1.05)" font-size="12">10</text><path d="M40.12 137.14 h4.62" stroke="#555" stroke-width="0.66" fill="none"/><text x="45.28" y="139.78" font-size="8.04">4</text>
<text transform="translate(28.36,175.42) scale(0.94,1.05)" font-size="12">10</text><path d="M40.12 168.76 h4.62" stroke="#555" stroke-width="0.66" fill="none"/><text x="45.28" y="171.40" font-size="8.04">5</text>
<text transform="translate(28.36,207.05) scale(0.94,1.05)" font-size="12">10</text><path d="M40.12 200.39 h4.62" stroke="#555" stroke-width="0.66" fill="none"/><text x="45.28" y="203.03" font-size="8.04">6</text>
<text transform="translate(95.05,186.80) scale(0.94,1.05)" font-size="10.5">10</text><path d="M105.34 180.97 h4.04" stroke="#555" stroke-width="0.58" fill="none"/><text x="109.86" y="183.28" font-size="7.04">1</text>
<text transform="translate(121.42,186.80) scale(0.94,1.05)" font-size="10.5">10</text><text x="131.08" y="183.28" font-size="7.04">0</text>
<text transform="translate(145.22,186.80) scale(0.94,1.05)" font-size="10.5">10</text><text x="154.88" y="183.28" font-size="7.04">1</text>
<text transform="translate(169.02,186.80) scale(0.94,1.05)" font-size="10.5">10</text><text x="178.68" y="183.28" font-size="7.04">2</text>
<text transform="translate(192.82,186.80) scale(0.94,1.05)" font-size="10.5">10</text><text x="202.48" y="183.28" font-size="7.04">3</text>
<text transform="translate(216.62,186.80) scale(0.94,1.05)" font-size="10.5">10</text><text x="226.28" y="183.28" font-size="7.04">4</text>
<text transform="translate(83.92,81.10) scale(0.94,1.05)" font-size="10.5">10</text><text x="93.58" y="77.58" font-size="7.04">0</text>
<text transform="translate(78.78,112.37) scale(0.94,1.05)" font-size="10.5">10</text><path d="M89.07 106.54 h4.04" stroke="#555" stroke-width="0.58" fill="none"/><text x="93.58" y="108.85" font-size="7.04">2</text>
<text transform="translate(78.78,143.63) scale(0.94,1.05)" font-size="10.5">10</text><path d="M89.07 137.81 h4.04" stroke="#555" stroke-width="0.58" fill="none"/><text x="93.58" y="140.12" font-size="7.04">4</text>
<text transform="translate(78.78,174.90) scale(0.94,1.05)" font-size="10.5">10</text><path d="M89.07 169.07 h4.04" stroke="#555" stroke-width="0.58" fill="none"/><text x="93.58" y="171.38" font-size="7.04">6</text>
<text x="192.6" y="240.2" font-size="19.5" font-style="italic" text-anchor="middle">t</text>
<text x="163.8" y="198.6" font-size="12.5" font-style="italic" text-anchor="middle">t</text>
<text transform="translate(14.2,127.9) rotate(-90)" font-size="17.5" textLength="39.2" lengthAdjust="spacing"><tspan font-style="italic">π</tspan><tspan font-size="10.5" dy="3.5">1,1</tspan><tspan dy="-3.5" font-size="20.5">(</tspan><tspan font-style="italic">t</tspan><tspan font-size="20.5">)</tspan></text>
<text transform="translate(72.2,139.7) rotate(-90)" font-size="12.5" textLength="30.2" lengthAdjust="spacing">|<tspan font-style="italic">α</tspan>(<tspan font-style="italic">t</tspan>)|<tspan font-size="8.5" dy="-5">2</tspan></text>
<path d="M64.3 131.0 V138.0" stroke="#4a4a4a" stroke-width="0.7" fill="none"/>
</svg>
</body></html>
